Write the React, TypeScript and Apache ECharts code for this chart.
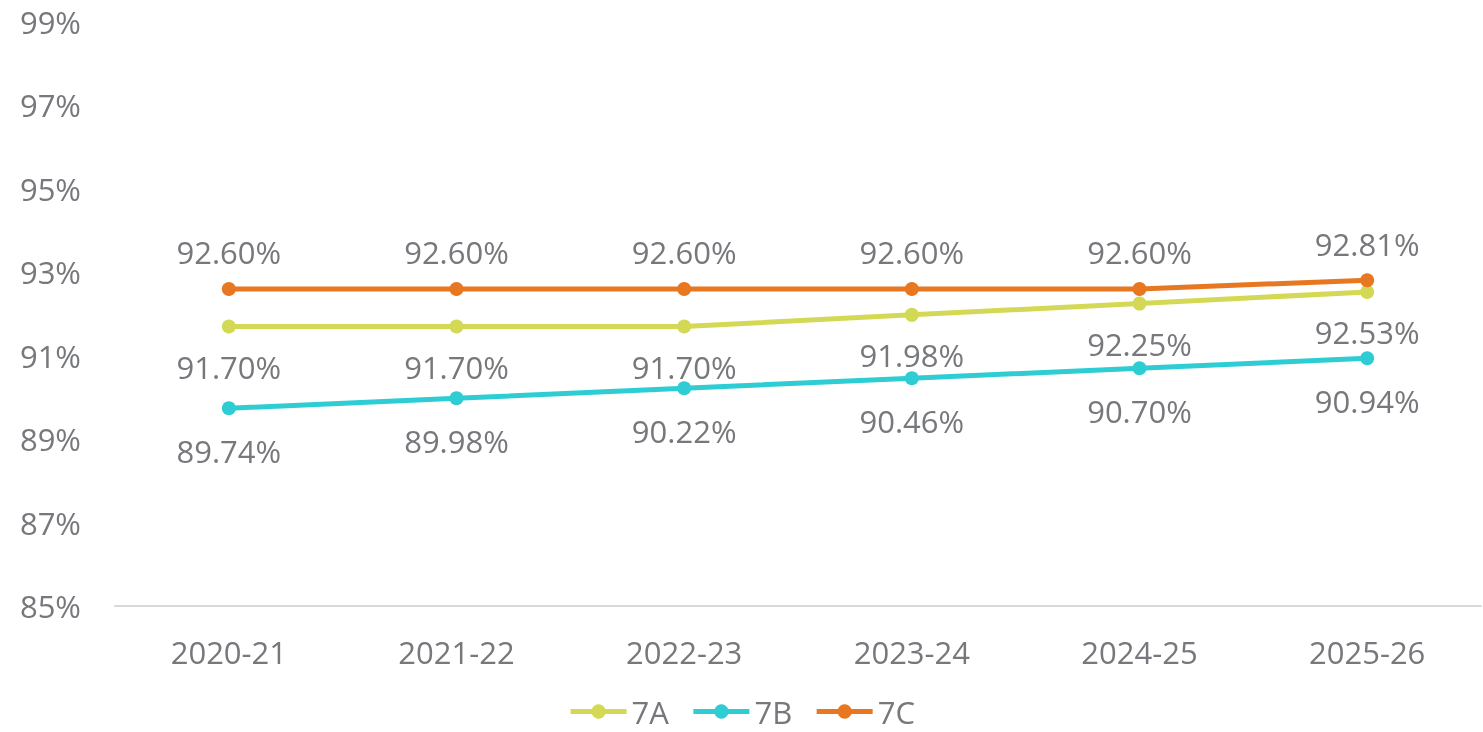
import React, { useEffect, useRef } from "react";
import * as echarts from "echarts";

const categories = ["2020-21", "2021-22", "2022-23", "2023-24", "2024-25", "2025-26"];
const series7A = [91.7, 91.7, 91.7, 91.98, 92.25, 92.53];
const series7B = [89.74, 89.98, 90.22, 90.46, 90.7, 90.94];
const series7C = [92.6, 92.6, 92.6, 92.6, 92.6, 92.81];
const yMin = 85;
const yMax = 99;
const yInterval = 2;

const textColor = "#76787c";
const font = "'Open Sans', sans-serif";
const fs = 31;

export default function App() {
  const ref = useRef<HTMLDivElement>(null);
  useEffect(() => {
    if (!ref.current) return;
    const chart = echarts.init(ref.current, undefined, { renderer: "svg" });
    const mk = (name: string, data: number[], color: string, pos: string, dist: number) => ({
      name,
      type: "line",
      data,
      symbol: "circle",
      symbolSize: 14,
      lineStyle: { width: 5, color },
      itemStyle: { color },
      label: {
        show: true,
        position: pos,
        distance: dist,
        color: textColor,
        fontSize: fs,
        fontFamily: font,
        formatter: (p: any) => p.value.toFixed(2) + "%",
      },
    });
    chart.setOption({
      animation: false,
      grid: { left: 115, right: 2, top: 22, bottom: 126, containLabel: false },
      legend: {
        bottom: 5,
        padding: [0, 5, 0, 5],
        left: "center",
        itemWidth: 56,
        itemHeight: 18,
        itemGap: 22,
        lineStyle: { width: 5 },
        textStyle: { color: textColor, fontSize: fs, fontFamily: font, lineHeight: 30 },
        data: ["7A", "7B", "7C"],
      },
      xAxis: {
        type: "category",
        data: categories,
        axisLine: { lineStyle: { color: "#d9d9d9", width: 2 } },
        axisTick: { show: false },
        axisLabel: { color: textColor, fontSize: fs, fontFamily: font, margin: 30 },
      },
      yAxis: {
        type: "value",
        min: yMin,
        max: yMax,
        interval: yInterval,
        splitLine: { show: false },
        axisLine: { show: false },
        axisTick: { show: false },
        axisLabel: {
          color: textColor,
          fontSize: fs,
          fontFamily: font,
          margin: 34,
          formatter: (v: number) => v + "%",
        },
      },
      series: [
        mk("7A", series7A, "#d4d955", "bottom", 18),
        mk("7B", series7B, "#2ecdd3", "bottom", 20),
        mk("7C", series7C, "#e87722", "top", 14),
      ],
    });
    return () => chart.dispose();
  }, []);
  return (
    <div
      ref={ref}
      style={{ position: "fixed", left: 0, top: 0, width: 1483, height: 732 }}
    />
  );
}
